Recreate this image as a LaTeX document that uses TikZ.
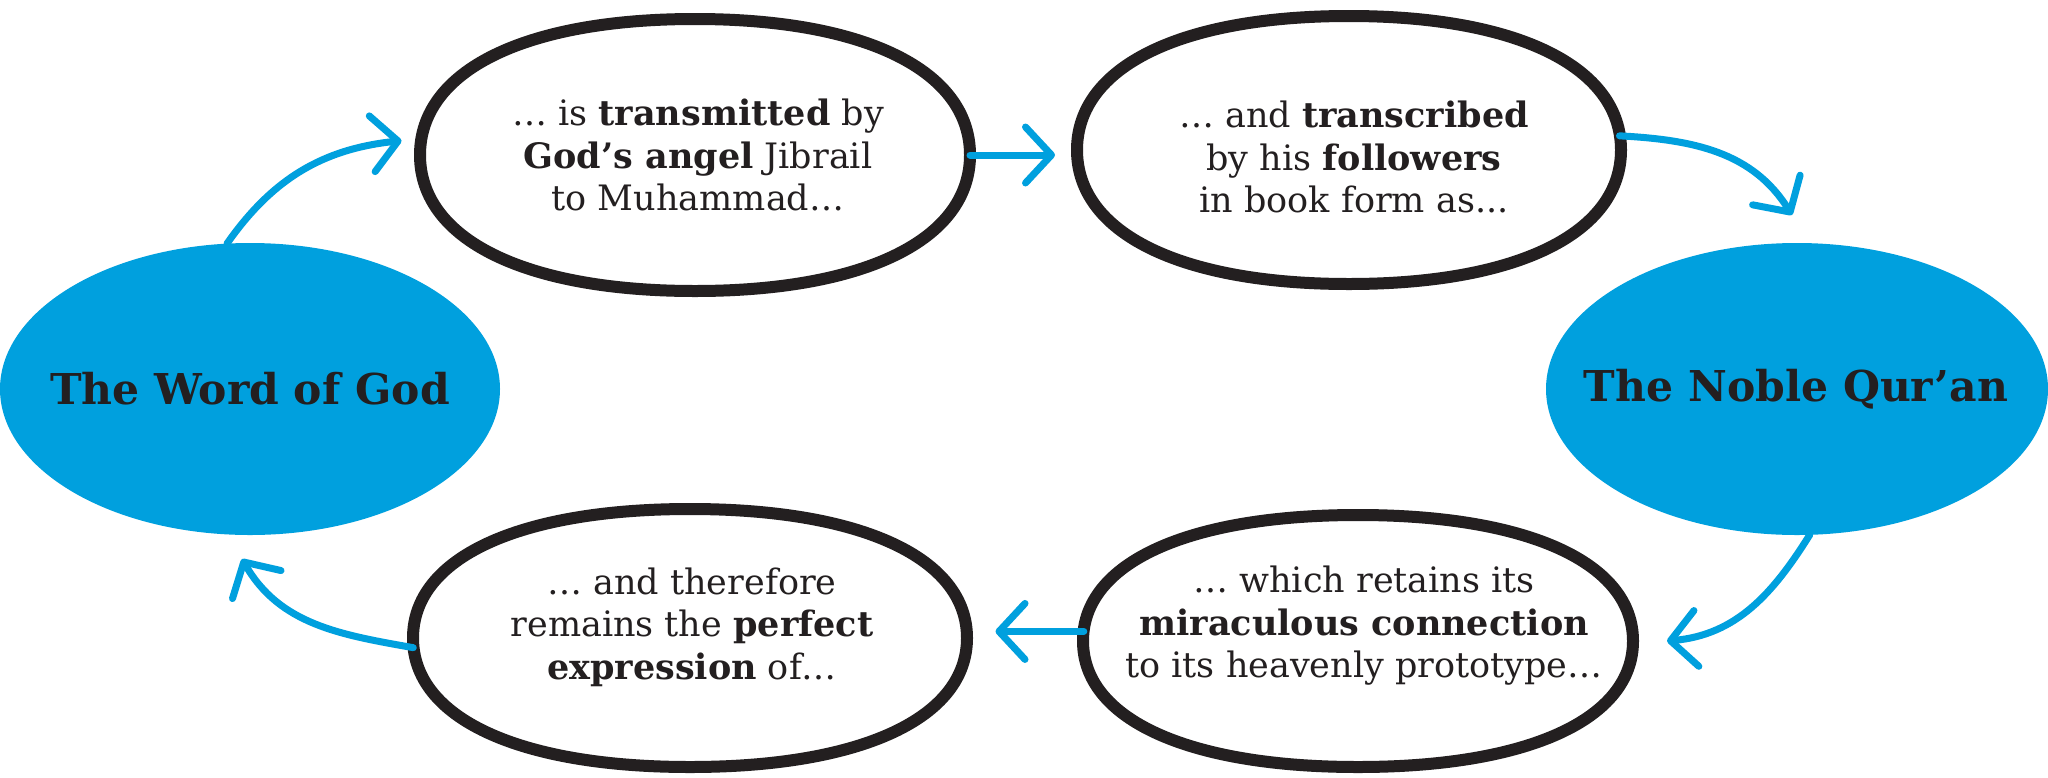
\documentclass[tikz,border=0pt]{standalone}
\usepackage{fontspec}
\setmainfont{DejaVu Serif}
\usetikzlibrary{shapes.geometric,arrows.meta,calc}
\definecolor{qblue}{RGB}{0,160,222}
\definecolor{ink}{RGB}{35,31,32}
\tikzset{
  blueell/.style={ellipse, fill=qblue, inner sep=0pt, outer sep=0pt},
  headtext/.style={text=ink, inner sep=0pt, font=\fontsize{42.5}{50}\selectfont\bfseries},
  inkell/.style={ellipse, inner sep=0pt, outer sep=0pt},
  inkline/.style={draw=ink, line width=12pt, line join=round},
  inkthin/.style={draw=ink, line width=5pt, line join=round},
  bodytext/.style={align=center, text=ink, inner sep=0pt, font=\fontsize{35}{42.5}\selectfont},
  conn/.style={draw=qblue, line width=7pt, line cap=round,
    -{Straight Barb[length=26pt,width=56pt,line width=7pt,round]}},
}
% rounded oval round a node centre: #1 node, #2 rx, #3 ry, #4 style
\newcommand\inkloop[4]{%
  \draw[#4] ($(#1.center)+(#2,0)$)
    .. controls +(0,{0.62*#3}) and +({0.62*#2},0) .. ($(#1.center)+(0,#3)$)
    .. controls +({-0.62*#2},0) and +(0,{0.62*#3}) .. ($(#1.center)+(-#2,0)$)
    .. controls +(0,{-0.62*#3}) and +({-0.62*#2},0) .. ($(#1.center)+(0,-#3)$)
    .. controls +({0.62*#2},0) and +(0,{-0.62*#3}) .. cycle;}
\begin{document}
\begin{tikzpicture}[x=1pt,y=1pt]
\fill[white] (0,0) rectangle (2048,-777);
\useasboundingbox (0,0) rectangle (2048,-777);

\node[blueell, minimum width=500pt, minimum height=292pt] (wog) at (250,-389) {};
\node[headtext] (wogt) at (wog.center) {The Word of God};
\node[blueell, minimum width=502pt, minimum height=292pt] (nq) at (1797,-389) {};
\node[headtext] (nqt) at (1796,-389) {The Noble Qur’an};

\node[inkell, minimum width=550pt, minimum height=272pt] (tl) at (695,-155) {};
\node[inkell, minimum width=544pt, minimum height=268pt] (tr) at (1349,-150) {};
\node[inkell, minimum width=555pt, minimum height=258pt] (bl) at (690,-638) {};
\node[inkell, minimum width=550pt, minimum height=252pt] (br) at (1358,-641) {};

\inkloop{tl}{275}{136}{inkline}
\inkloop{tr}{272}{134}{inkline}
\inkloop{bl}{277}{129}{inkline}
\inkloop{br}{275}{126}{inkline}
\begin{scope}[shift={(-2,3)}]
\inkloop{tl}{273}{135}{inkthin}
\inkloop{tr}{270}{133}{inkthin}
\inkloop{bl}{275}{128}{inkthin}
\inkloop{br}{273}{125}{inkthin}
\end{scope}

\node[bodytext] (tlt) at (698,-155) {… is \textbf{transmitted} by\\ \textbf{God’s angel} Jibrail\\ to Muhammad…};
\node[bodytext] (trt) at (1354,-157) {… and \textbf{transcribed}\\ by his \textbf{followers}\\ in book form as...};
\node[bodytext] (blt) at (692,-627) {… and therefore\\ remains the \textbf{perfect}\\ \textbf{expression} of…};
\node[bodytext] (brt) at (1364,-626) {… which retains its\\ \textbf{miraculous connection}\\ to its heavenly prototype…};

\draw[conn] (wog.99) to[out=55,in=186] ($(tl.177)+(-20,0)$);
\draw[conn] (tl.east) -- ($(tl.east -| tr.west)+(-22,0)$);
\draw[conn] (tr.3) to[out=-3,in=122] ($(nq.north)+(-5,28)$);
\draw[conn] (nq.275) to[out=238,in=5] ($(br.east)+(34,0)$);
\draw[conn] (br.178) -- ($(br.178 -| bl.east)+(28,0)$);
\draw[conn] (bl.182) to[out=170,in=300] ($(wog.south)+(-8,-24)$);
\end{tikzpicture}
\end{document}
